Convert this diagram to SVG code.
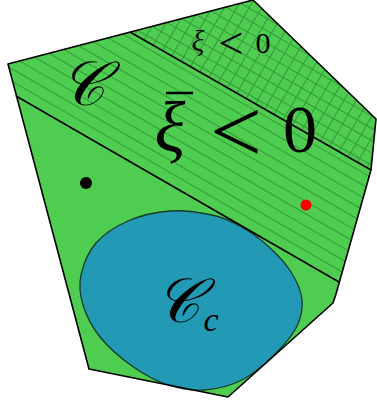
<svg xmlns="http://www.w3.org/2000/svg" width="377" height="408" viewBox="0 0 377 408">
<defs>
<style>
.edge{fill:none;stroke:#000;stroke-width:1.6;stroke-linejoin:round}
.hatch line{stroke:#359a3b;stroke-width:1}
.m{font-family:"Liberation Serif","DejaVu Serif",serif;fill:#000}
.mi{font-family:"Liberation Serif","DejaVu Serif",serif;font-style:italic;fill:#000}
</style>
<clipPath id="clipBar">
<polygon points="16,96 8,64 253,0 376,119 371,170 339,282"/>
</clipPath>
<clipPath id="clipXi">
<polygon points="130,32 253,0 376,119 371,170"/>
</clipPath>
</defs>
<g id="region-C">
<polygon points="8,64 253,0 376,119 371,170 336,294 333,303 228,397 89,369" fill="#4ecd50"/>
</g>
<g id="region-xibar" clip-path="url(#clipBar)">
<g class="hatch" transform="rotate(30)">
<line x1="-200" y1="64.4" x2="700" y2="64.4"/>
<line x1="-200" y1="53.7" x2="700" y2="53.7"/>
<line x1="-200" y1="43" x2="700" y2="43"/>
<line x1="-200" y1="32.3" x2="700" y2="32.3"/>
<line x1="-200" y1="21.6" x2="700" y2="21.6"/>
<line x1="-200" y1="10.9" x2="700" y2="10.9"/>
<line x1="-200" y1="0.2" x2="700" y2="0.2"/>
<line x1="-200" y1="-10.5" x2="700" y2="-10.5"/>
<line x1="-200" y1="-21.2" x2="700" y2="-21.2"/>
<line x1="-200" y1="-31.9" x2="700" y2="-31.9"/>
<line x1="-200" y1="-42.6" x2="700" y2="-42.6"/>
<line x1="-200" y1="-53.3" x2="700" y2="-53.3"/>
<line x1="-200" y1="-64" x2="700" y2="-64"/>
<line x1="-200" y1="-74.7" x2="700" y2="-74.7"/>
<line x1="-200" y1="-85.4" x2="700" y2="-85.4"/>
<line x1="-200" y1="-96.1" x2="700" y2="-96.1"/>
<line x1="-200" y1="-106.8" x2="700" y2="-106.8"/>
<line x1="-200" y1="-117.5" x2="700" y2="-117.5"/>
</g>
</g>
<g id="region-xi" clip-path="url(#clipXi)">
<g class="hatch" transform="rotate(30)">
<line x1="134" y1="-300" x2="134" y2="200"/>
<line x1="144.7" y1="-300" x2="144.7" y2="200"/>
<line x1="155.4" y1="-300" x2="155.4" y2="200"/>
<line x1="166.1" y1="-300" x2="166.1" y2="200"/>
<line x1="176.8" y1="-300" x2="176.8" y2="200"/>
<line x1="187.5" y1="-300" x2="187.5" y2="200"/>
<line x1="198.2" y1="-300" x2="198.2" y2="200"/>
<line x1="208.9" y1="-300" x2="208.9" y2="200"/>
<line x1="219.6" y1="-300" x2="219.6" y2="200"/>
<line x1="230.3" y1="-300" x2="230.3" y2="200"/>
<line x1="241" y1="-300" x2="241" y2="200"/>
<line x1="251.7" y1="-300" x2="251.7" y2="200"/>
<line x1="262.4" y1="-300" x2="262.4" y2="200"/>
<line x1="273.1" y1="-300" x2="273.1" y2="200"/>
<line x1="283.8" y1="-300" x2="283.8" y2="200"/>
<line x1="294.5" y1="-300" x2="294.5" y2="200"/>
<line x1="305.2" y1="-300" x2="305.2" y2="200"/>
<line x1="315.9" y1="-300" x2="315.9" y2="200"/>
<line x1="326.6" y1="-300" x2="326.6" y2="200"/>
<line x1="337.3" y1="-300" x2="337.3" y2="200"/>
<line x1="348" y1="-300" x2="348" y2="200"/>
<line x1="358.7" y1="-300" x2="358.7" y2="200"/>
<line x1="369.4" y1="-300" x2="369.4" y2="200"/>
<line x1="380.1" y1="-300" x2="380.1" y2="200"/>
<line x1="390.8" y1="-300" x2="390.8" y2="200"/>
<line x1="401.5" y1="-300" x2="401.5" y2="200"/>
</g>
</g>
<g id="region-Cc">
<path d="M170,211 C184,210 200.3,212.5 212,215 C223.7,217.5 230.7,220.8 240,226 C249.3,231.2 259.5,238.3 268,246 C276.5,253.7 285.3,263 291,272 C296.7,281 301.2,290.7 302,300 C302.8,309.3 301,318.5 296,328 C291,337.5 281,348.3 272,357 C263,365.7 253.2,374.5 242,380 C230.8,385.5 217.3,389.2 205,390 C192.7,390.8 180.2,389 168,385 C155.8,381 143.3,374 132,366 C120.7,358 108.2,347.2 100,337 C91.8,326.8 86.2,315.3 83,305 C79.8,294.7 78.8,285.3 81,275 C83.2,264.7 88.2,252 96,243 C103.8,234 115.7,226.3 128,221 C140.3,215.7 156,212 170,211 Z" fill="#2299b5" stroke="#173a2a" stroke-width="1.3"/>
</g>
<g id="connectors">
<polygon class="edge" points="8,64 253,0 376,119 371,170 336,294 333,303 228,397 89,369"/>
<line class="edge" x1="130" y1="32" x2="371" y2="170"/>
<line class="edge" x1="16" y1="96" x2="339" y2="282"/>
</g>
<g id="points">
<circle cx="86" cy="183" r="6" fill="#000"/>
<circle cx="306" cy="205" r="5.5" fill="#ff0000"/>
</g>
<g id="labels">
<text class="mi" x="82" y="105" font-size="62" text-anchor="middle">𝒞</text>
<text class="mi" x="170" y="152" font-size="72" text-anchor="middle">ξ</text>
<line x1="166" y1="93" x2="193" y2="93" stroke="#000" stroke-width="2.5"/>
<text class="m" x="236" y="162" font-size="92" text-anchor="middle">&lt;</text>
<text class="m" x="300" y="152" font-size="68" text-anchor="middle">0</text>
<text class="mi" x="198" y="51" font-size="30" text-anchor="middle">ξ</text>
<text class="m" x="231" y="58" font-size="44" text-anchor="middle">&lt;</text>
<text class="m" x="263" y="53" font-size="30" text-anchor="middle">0</text>
<text class="mi" x="177" y="322" font-size="62" text-anchor="middle">𝒞</text>
<text class="mi" x="211" y="331" font-size="34" text-anchor="middle">c</text>
</g>
</svg>
